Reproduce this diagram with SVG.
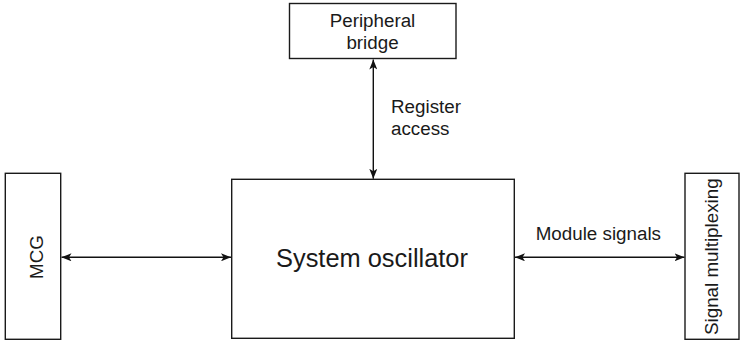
<svg xmlns="http://www.w3.org/2000/svg" width="740" height="343" viewBox="0 0 740 343">
<defs>
<style>
.box{fill:#fff;stroke:#1a1a1a;stroke-width:1.4}
.t{font-family:"Liberation Sans",Arial,sans-serif;font-size:18.8px;fill:#1a1a1a}
.big{font-size:25.4px}
.c{stroke:#111;stroke-width:1.4;fill:none;marker-start:url(#ah);marker-end:url(#ah)}
</style>
<marker id="ah" viewBox="0 0 10 8" refX="10" refY="4" markerWidth="10" markerHeight="8" markerUnits="userSpaceOnUse" orient="auto-start-reverse">
<path d="M0,0 L10,4 L0,8 L2.5,4 Z" fill="#111"/>
</marker>
</defs>
<g id="connectors">
<line class="c" x1="373.3" y1="59.5" x2="373.3" y2="178.8"/>
<line class="c" x1="61.5" y1="257.3" x2="231" y2="257.3"/>
<line class="c" x1="515" y1="257.3" x2="684.5" y2="257.3"/>
<text class="t" x="391" y="112.7">Register</text>
<text class="t" x="391" y="135">access</text>
<text class="t" x="535.7" y="240">Module signals</text>
</g>
<g id="peripheral-bridge">
<rect class="box" x="289.5" y="3.5" width="166.5" height="55"/>
<text class="t" x="372.5" y="26.7" text-anchor="middle">Peripheral</text>
<text class="t" x="372.5" y="49.3" text-anchor="middle">bridge</text>
</g>
<g id="system-oscillator">
<rect class="box" x="231.7" y="179.3" width="282.6" height="159"/>
<text class="t big" x="372" y="266.5" text-anchor="middle">System oscillator</text>
</g>
<g id="mcg">
<rect class="box" x="5.3" y="173.3" width="55.4" height="166"/>
<text class="t" transform="translate(42.5,257) rotate(-90)" text-anchor="middle">MCG</text>
</g>
<g id="signal-multiplexing">
<rect class="box" x="685" y="173.3" width="54" height="166"/>
<text class="t" transform="translate(718.3,256.7) rotate(-90)" text-anchor="middle">Signal multiplexing</text>
</g>
</svg>
